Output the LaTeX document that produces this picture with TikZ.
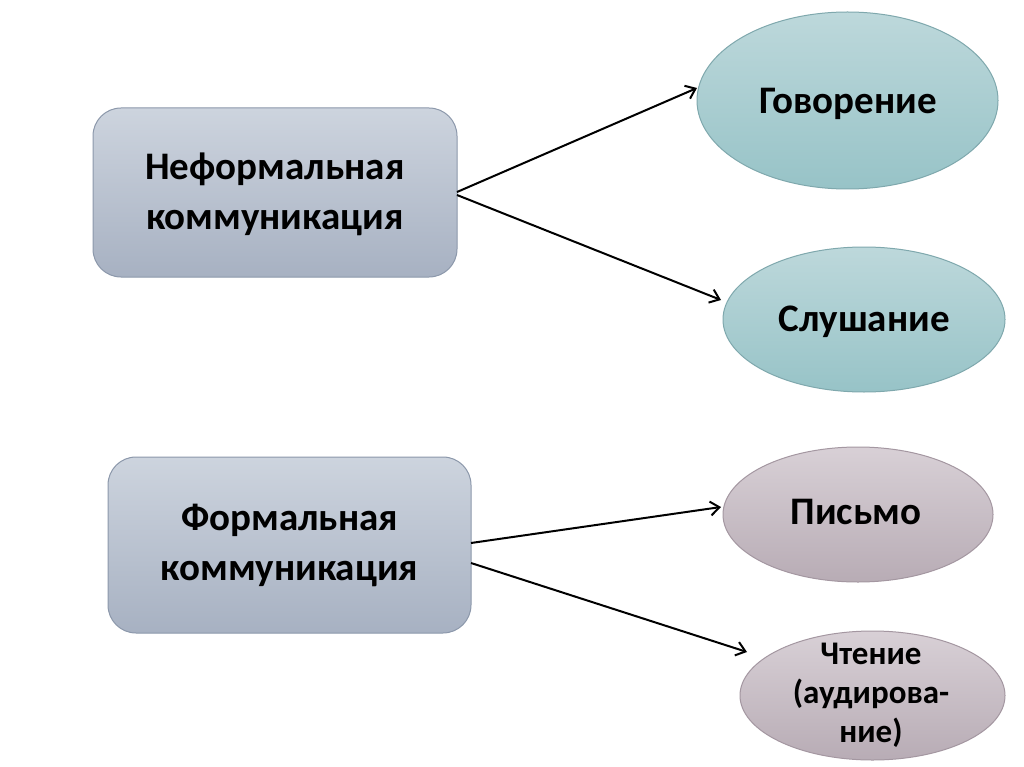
\documentclass[tikz,border=0pt]{standalone}
\usepackage{fontspec}
\setmainfont{Carlito}
\usetikzlibrary{shapes.geometric,arrows.meta}
\definecolor{boxtop}{HTML}{CDD4DE}
\definecolor{boxbot}{HTML}{A7B1C2}
\definecolor{boxline}{HTML}{8C98AB}
\definecolor{tealtop}{HTML}{BDD8DB}
\definecolor{tealbot}{HTML}{97C3C7}
\definecolor{tealline}{HTML}{7FA8AD}
\definecolor{mautop}{HTML}{D8D0D6}
\definecolor{maubot}{HTML}{B8ACB5}
\definecolor{mauline}{HTML}{A497A1}
\tikzset{
  box/.style={draw=boxline, line width=1pt, rounded corners=28pt, top color=boxtop, bottom color=boxbot, align=center, font=\bfseries\fontsize{39}{50}\selectfont, inner sep=0pt},
  tealell/.style={ellipse, draw=tealline, line width=1pt, top color=tealtop, bottom color=tealbot, align=center, font=\bfseries\fontsize{39}{46}\selectfont, inner sep=0pt},
  mauell/.style={ellipse, draw=mauline, line width=1pt, top color=mautop, bottom color=maubot, align=center, font=\bfseries\fontsize{39}{46}\selectfont, inner sep=0pt},
  arr/.style={-{Straight Barb[length=9pt,width=14pt,line width=2pt]}, line width=2pt, black},
}
\begin{document}
\begin{tikzpicture}[x=1pt,y=-1pt]
\useasboundingbox[fill=white] (0,0) rectangle (1024,767);
\node[box, minimum width=364pt, minimum height=169pt] (inf) at (275,192.5) {};
\node[box, minimum width=363pt, minimum height=176pt] (frm) at (289.5,545) {};
\node[font=\bfseries\fontsize{39}{50}\selectfont, align=center] (inft) at (275,194) {Неформальная\\коммуникация};
\node[font=\bfseries\fontsize{39}{50}\selectfont, align=center] (frmt) at (289.5,545) {Формальная\\коммуникация};
\node[tealell, minimum width=301pt, minimum height=177pt] (gov) at (847.5,100.5) {};
\node[font=\bfseries\fontsize{39}{46}\selectfont] (govt) at (848,104) {Говорение};
\node[tealell, minimum width=282pt, minimum height=145pt] (slu) at (864,319.5) {};
\node[font=\bfseries\fontsize{39}{46}\selectfont] (slut) at (864,322) {Слушание};
\node[mauell, minimum width=270pt, minimum height=135pt] (pis) at (858,514.5) {};
\node[font=\bfseries\fontsize{39}{46}\selectfont] (pist) at (856,512) {Письмо};
\node[mauell, minimum width=265pt, minimum height=129pt] (cht) at (872.5,695.5) {};
\node[font=\bfseries\fontsize{33}{39}\selectfont, align=center] (chtt) at (871,695) {Чтение\\(аудирова-\\ние)};
\coordinate (a1) at (457,192);
\coordinate (a2) at (457,195);
\coordinate (b1) at (471,543);
\coordinate (b2) at (471,563);
\coordinate (g) at (697,88);
\coordinate (s) at (721,300);
\coordinate (p) at (721,507);
\coordinate (c) at (747,652);
\draw[arr] (a1) -- (g);
\draw[arr] (a2) -- (s);
\draw[arr] (b1) -- (p);
\draw[arr] (b2) -- (c);
\end{tikzpicture}
\end{document}
